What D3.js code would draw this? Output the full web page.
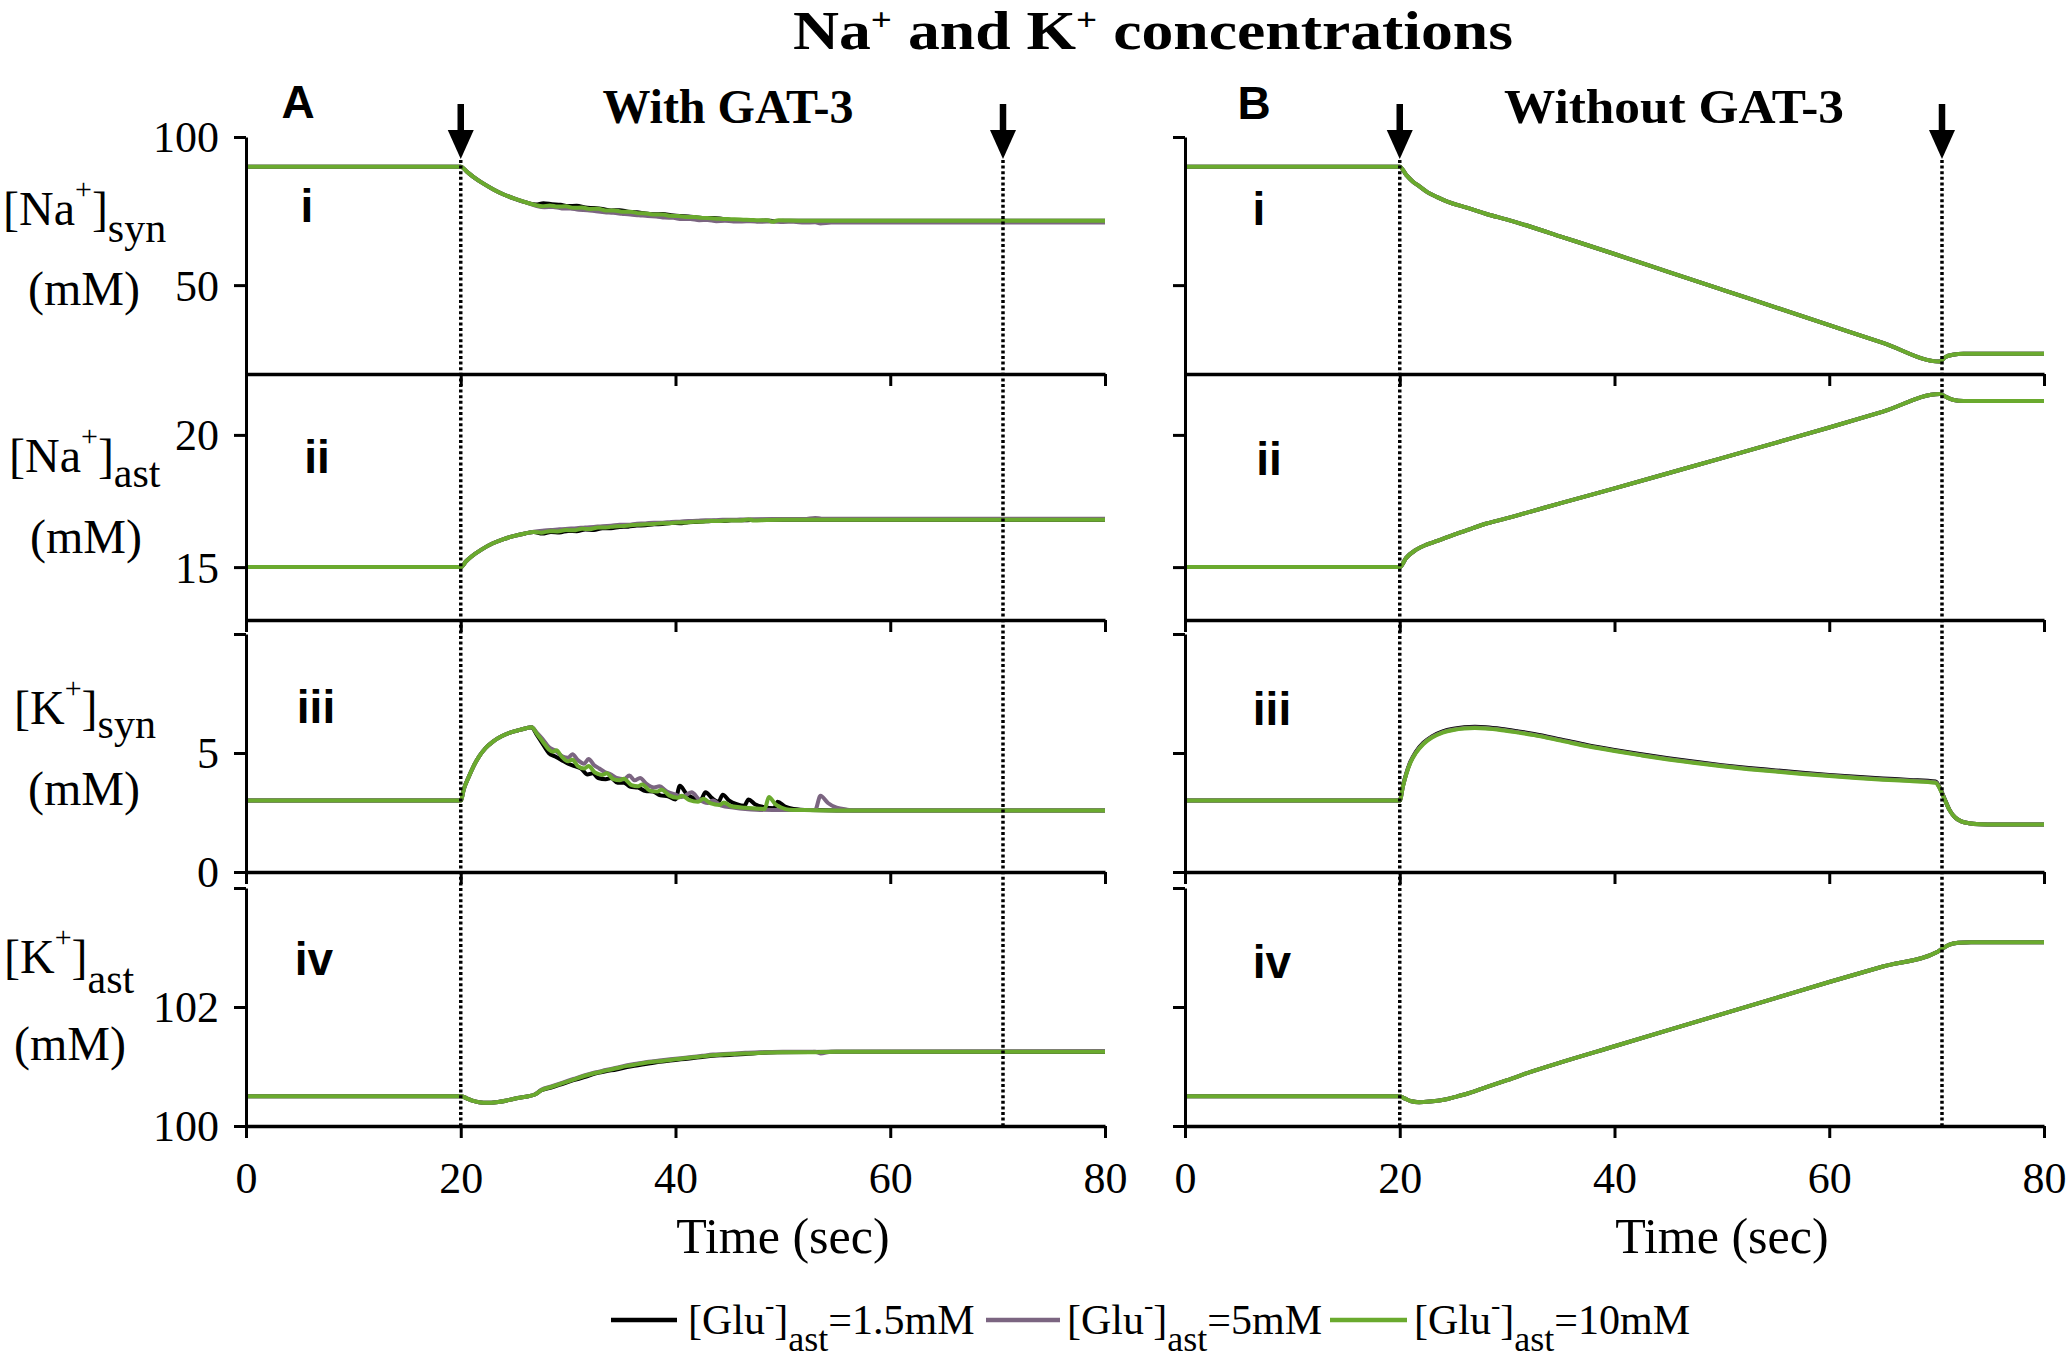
<!DOCTYPE html>
<html><head><meta charset="utf-8">
<script src="https://cdn.jsdelivr.net/npm/d3@7"></script>
<style>body{margin:0;background:#fff}</style>
</head><body>
<svg id="c" width="2070" height="1362" xmlns="http://www.w3.org/2000/svg"></svg>
<script>
// ---------------- DATA ----------------
const xTicks = [0, 20, 40, 60, 80];
const stimTimes = [20, 70.5];
const seriesNames = ["1.5mM", "5mM", "10mM"];

const yTicks_NaSyn = [50, 100];   const yLabels_NaSyn = [50, 100];
const yTicks_NaAst = [15, 20];    const yLabels_NaAst = [15, 20];
const yTicks_KSyn  = [0, 5, 10];  const yLabels_KSyn  = [0, 5];
const yTicks_KAst  = [100, 102, 104]; const yLabels_KAst = [100, 102];

// Panel A (with GAT-3)
const A_NaSyn_black = [[0,90],[20,90],[20.6,88.2],[21.3,86.2],[22,84.5],[23,82.4],[24,80.6],[25,79.2],[26,78],[27,77.2],[27.7,77.6],[28.5,77.3],[29.3,77.1],[30,76.7],[30.8,76.8],[31.6,76.2],[32.4,76.0],[33.2,75.7],[34,75.2],[34.8,75.3],[35.6,74.8],[36.4,74.6],[37.2,74.2],[38,73.9],[38.8,74.0],[39.6,73.6],[40.4,73.3],[41.2,73.2],[42,72.8],[42.8,72.6],[43.6,72.7],[44.4,72.3],[45.2,72.0],[46,71.8],[46.8,71.9],[47.6,71.6],[48.4,71.8],[49.2,71.6],[50,71.7],[52,71.7],[80,71.7]];
const A_NaSyn_purple = [[0,90],[20,90],[20.6,88.2],[21.3,86.2],[22,84.5],[23,82.4],[24,80.6],[25,79.2],[26,78],[27,76.8],[27.8,76.3],[28.6,76.4],[29.4,75.9],[30.2,75.9],[31,75.4],[31.8,75.3],[32.6,74.9],[33.4,74.6],[34.2,74.4],[35,74.1],[35.8,73.8],[36.6,73.6],[37.4,73.3],[38.2,73.2],[39,72.8],[39.8,72.7],[40.6,72.3],[41.4,72.3],[42.2,71.9],[43,72.0],[43.8,71.6],[44.6,71.7],[45.4,71.5],[46.2,71.5],[47,71.6],[48,71.4],[49,71.5],[50,71.3],[51,71.4],[52,71.1],[53,71.2],[53.5,70.8],[54.5,71.1],[56,71.1],[80,71.1]];
const A_NaSyn_green = [[0,90],[20,90],[20.6,88.2],[21.3,86.2],[22,84.5],[23,82.4],[24,80.6],[25,79.2],[26,78],[27,77],[27.6,76.6],[28.3,76.9],[29,76.5],[29.8,76.6],[30.5,76.1],[31.3,76.2],[32,75.7],[32.8,75.8],[33.5,75.2],[34.3,75.2],[35,74.8],[35.8,74.8],[36.5,74.3],[37.3,74.2],[38,73.8],[38.8,73.8],[39.5,73.4],[40.3,73.3],[41,73.0],[41.8,73.0],[42.5,72.7],[43.3,72.6],[44,72.4],[44.8,72.3],[45.5,72.2],[46.3,72.1],[47,72.0],[47.8,71.9],[48.6,71.9],[49,71.4],[49.6,71.9],[50.5,71.8],[52,71.7],[80,71.7]];

const A_NaAst_black = [[0,15],[20,15],[20.5,15.22],[21,15.4],[22,15.68],[23,15.9],[24,16.06],[25,16.18],[26,16.27],[26.8,16.33],[27.6,16.27],[28.4,16.33],[29.2,16.31],[30,16.37],[30.8,16.36],[31.6,16.42],[32.4,16.4],[33.2,16.47],[34,16.47],[34.8,16.52],[35.6,16.53],[36.4,16.57],[37.2,16.58],[38,16.62],[38.8,16.63],[39.6,16.67],[40.4,16.66],[41.2,16.7],[42,16.71],[42.8,16.73],[43.6,16.75],[44.4,16.74],[45.2,16.77],[46,16.77],[47,16.78],[48,16.79],[50,16.79],[80,16.79]];
const A_NaAst_purple = [[0,15],[20,15],[20.5,15.22],[21,15.4],[22,15.68],[23,15.9],[24,16.06],[25,16.18],[26,16.27],[26.8,16.34],[27.6,16.38],[28.4,16.4],[29.2,16.43],[30,16.45],[30.8,16.47],[31.6,16.5],[32.4,16.52],[33.2,16.55],[34,16.56],[34.8,16.6],[35.6,16.6],[36.4,16.64],[37.2,16.65],[38,16.68],[38.8,16.68],[39.6,16.71],[40.4,16.72],[41.2,16.74],[42,16.75],[42.8,16.77],[43.6,16.77],[44.4,16.79],[45.2,16.79],[46,16.8],[47,16.81],[48,16.81],[50,16.82],[52,16.82],[53,16.86],[53.6,16.83],[55,16.83],[80,16.83]];
const A_NaAst_green = [[0,15],[20,15],[20.5,15.22],[21,15.4],[22,15.68],[23,15.9],[24,16.06],[25,16.18],[26,16.27],[26.8,16.33],[27.5,16.3],[28.3,16.36],[29,16.35],[29.8,16.4],[30.5,16.39],[31.3,16.45],[32,16.44],[32.8,16.5],[33.5,16.5],[34.3,16.54],[35,16.55],[35.8,16.58],[36.5,16.6],[37.3,16.62],[38,16.63],[38.8,16.66],[39.5,16.66],[40.3,16.69],[41,16.69],[41.8,16.72],[42.5,16.72],[43.3,16.74],[44,16.74],[45,16.76],[46,16.76],[46.8,16.8],[47.3,16.76],[48.5,16.78],[50,16.79],[80,16.79]];

const A_KSyn_black = [[0,3],[20,3],[20.3,3.5],[20.7,3.95],[21.2,4.45],[21.7,4.85],[22.3,5.2],[23,5.48],[23.8,5.7],[24.6,5.86],[25.5,5.97],[26.6,6.08],[27.1,5.75],[27.6,5.4],[28.2,5.0],[28.8,4.85],[29.4,4.7],[30,4.55],[30.6,4.45],[31.2,4.35],[31.8,4.1],[32.3,4.15],[32.8,3.95],[33.5,3.9],[34,3.95],[34.6,3.75],[35.2,3.75],[35.8,3.58],[36.5,3.55],[37.2,3.4],[37.9,3.38],[38.6,3.22],[39.3,3.18],[40,3.05],[40.4,3.62],[41.0,3.3],[41.6,3.12],[42.3,3.0],[42.8,3.35],[43.4,3.1],[44,2.95],[44.4,3.25],[45,3.0],[45.7,2.85],[46.4,2.78],[46.8,3.05],[47.4,2.85],[48.3,2.72],[49.2,2.68],[49.5,2.95],[50.2,2.75],[51,2.65],[52.5,2.6],[55,2.58],[80,2.58]];
const A_KSyn_purple = [[0,3],[20,3],[20.3,3.5],[20.7,3.95],[21.2,4.45],[21.7,4.85],[22.3,5.2],[23,5.48],[23.8,5.7],[24.6,5.86],[25.5,5.97],[26.6,6.08],[27.1,5.85],[27.6,5.6],[28.2,5.25],[28.8,5.1],[29.5,4.85],[30,4.8],[30.4,4.95],[30.9,4.7],[31.5,4.55],[31.9,4.75],[32.4,4.5],[32.9,4.35],[33.4,4.2],[34,4.1],[34.5,3.95],[35.2,3.9],[35.7,4.05],[36.2,3.85],[36.7,3.95],[37.3,3.7],[38,3.55],[38.5,3.6],[39.2,3.38],[40,3.25],[40.6,3.15],[41.5,3.35],[42.2,3.05],[43,2.9],[43.5,3.0],[44.2,2.8],[45.5,2.7],[46.5,2.65],[47.5,2.62],[50,2.6],[53.0,2.6],[53.5,3.2],[54.2,2.9],[55,2.7],[56,2.62],[57,2.58],[80,2.58]];
const A_KSyn_green = [[0,3],[20,3],[20.3,3.5],[20.7,3.95],[21.2,4.45],[21.7,4.85],[22.3,5.2],[23,5.48],[23.8,5.7],[24.6,5.86],[25.5,5.97],[26.6,6.08],[27.1,5.8],[27.6,5.5],[28.2,5.15],[28.6,5.05],[28.9,5.12],[29.4,4.85],[30,4.65],[30.4,4.72],[30.9,4.45],[31.5,4.35],[31.9,4.45],[32.5,4.18],[33.2,4.08],[33.6,4.15],[34.2,3.9],[34.8,3.85],[35.2,3.92],[35.9,3.65],[36.5,3.6],[36.9,3.68],[37.6,3.42],[38.3,3.38],[38.7,3.46],[39.4,3.22],[40.2,3.12],[40.6,3.2],[41.3,3.02],[42.1,2.95],[42.6,3.08],[43.3,2.88],[44.1,2.82],[44.5,2.92],[45.2,2.76],[46.5,2.7],[47.8,2.66],[48.3,2.65],[48.7,3.15],[49.3,2.85],[49.9,2.7],[50.6,2.62],[52,2.6],[55,2.58],[80,2.58]];

const A_KAst_black = [[0,100.5],[20,100.5],[20.5,100.47],[21,100.43],[21.7,100.4],[22.5,100.39],[23.3,100.4],[24.3,100.43],[25.3,100.47],[26.3,100.5],[26.9,100.53],[27.5,100.6],[28.5,100.65],[29.5,100.71],[30.5,100.77],[31.5,100.82],[32.5,100.88],[33.5,100.92],[34.5,100.95],[35.5,100.99],[36.5,101.02],[37.5,101.05],[38.5,101.08],[39.5,101.1],[40.5,101.12],[41.5,101.14],[42.5,101.16],[43.5,101.18],[44.5,101.19],[45.5,101.2],[46.5,101.21],[48,101.23],[50,101.24],[55,101.25],[80,101.25]];
const A_KAst_purple = [[0,100.5],[20,100.5],[20.5,100.47],[21,100.43],[21.7,100.4],[22.5,100.39],[23.3,100.4],[24.3,100.43],[25.3,100.47],[26.3,100.5],[26.9,100.53],[27.5,100.61],[28.5,100.67],[29.5,100.73],[30.5,100.79],[31.5,100.85],[32.5,100.9],[33.5,100.94],[34.5,100.98],[35.5,101.02],[36.5,101.05],[37.5,101.08],[38.5,101.1],[39.5,101.12],[40.5,101.14],[41.5,101.16],[42.5,101.18],[43.5,101.2],[44.5,101.21],[45.5,101.22],[46.5,101.23],[48,101.24],[50,101.25],[53,101.25],[53.5,101.22],[54.5,101.25],[80,101.26]];
const A_KAst_green = [[0,100.5],[20,100.5],[20.5,100.47],[21,100.43],[21.7,100.4],[22.5,100.39],[23.3,100.4],[24.3,100.43],[25.3,100.47],[26.3,100.5],[26.9,100.53],[27.5,100.6],[28.5,100.66],[29.5,100.72],[30.5,100.78],[31.5,100.84],[32.5,100.89],[33.5,100.93],[34.5,100.97],[35.5,101.01],[36.5,101.04],[37.5,101.07],[38.5,101.09],[39.5,101.11],[40.5,101.13],[41.5,101.15],[42.5,101.17],[43.5,101.19],[44.5,101.2],[45.5,101.21],[46.5,101.22],[48,101.23],[50,101.24],[52,101.24],[55,101.25],[80,101.25]];

// Panel B (without GAT-3): the three series coincide except in iii
const B_NaSyn = [[0,90],[20,90],[20.6,87.2],[21.2,85],[21.8,83.4],[22.6,81.3],[23.5,79.7],[24.5,78.1],[25.5,76.9],[26.4,76],[28,74.1],[30,72.1],[32.2,69.7],[35,66.4],[40,60.5],[45,54.5],[50,48.5],[55,42.5],[60,36.5],[65,30.5],[70.3,24.2],[70.8,25.7],[71.5,26.5],[72.5,26.8],[80,26.8]];
const B_NaAst = [[0,15],[20,15],[20.6,15.35],[21.5,15.65],[22.5,15.85],[23.5,15.99],[25,16.22],[26.4,16.42],[28,16.64],[30,16.85],[32.2,17.1],[35,17.42],[40,17.98],[45,18.55],[50,19.12],[55,19.7],[60,20.28],[65,20.88],[70.3,21.55],[70.8,21.45],[71.5,21.33],[72.5,21.28],[80,21.28]];
const B_KSyn_black = [[0,3],[20,3],[20.3,3.62],[20.6,4.13],[21,4.64],[21.5,5.05],[22.2,5.43],[23,5.7],[24,5.91],[25,6.02],[26,6.08],[27,6.1],[28,6.08],[29.5,6.01],[31,5.91],[32.5,5.8],[35,5.57],[37.5,5.33],[40,5.13],[42.5,4.95],[45,4.78],[47.5,4.63],[50,4.49],[52.5,4.37],[55,4.27],[57.5,4.17],[60,4.08],[62.5,4.0],[65,3.93],[67.5,3.87],[69.9,3.8],[70.3,3.54],[70.7,3.12],[71.2,2.61],[71.7,2.3],[72.3,2.13],[73,2.05],[74,2.01],[75.5,2.0],[80,2.0]];
const B_KSyn_purple = [[0,3],[20,3],[20.3,3.61],[20.6,4.11],[21,4.62],[21.5,5.02],[22.2,5.4],[23,5.67],[24,5.88],[25,5.99],[26,6.05],[27,6.07],[28,6.05],[29.5,5.98],[31,5.88],[32.5,5.77],[35,5.54],[37.5,5.3],[40,5.1],[42.5,4.92],[45,4.75],[47.5,4.6],[50,4.46],[52.5,4.34],[55,4.24],[57.5,4.14],[60,4.05],[62.5,3.97],[65,3.9],[67.5,3.84],[69.9,3.77],[70.3,3.52],[70.7,3.11],[71.2,2.6],[71.7,2.3],[72.3,2.13],[73,2.05],[74,2.01],[75.5,2.0],[80,2.0]];
const B_KSyn_green = [[0,3],[20,3],[20.3,3.6],[20.6,4.1],[21,4.6],[21.5,5.0],[22.2,5.38],[23,5.65],[24,5.86],[25,5.97],[26,6.03],[27,6.05],[28,6.03],[29.5,5.96],[31,5.86],[32.5,5.75],[35,5.52],[37.5,5.28],[40,5.08],[42.5,4.9],[45,4.73],[47.5,4.58],[50,4.44],[52.5,4.32],[55,4.22],[57.5,4.12],[60,4.03],[62.5,3.95],[65,3.88],[67.5,3.82],[69.9,3.75],[70.3,3.5],[70.7,3.1],[71.2,2.6],[71.7,2.3],[72.3,2.13],[73,2.05],[74,2.01],[75.5,2.0],[80,2.0]];
const B_KAst = [[0,100.5],[20,100.5],[20.5,100.46],[21,100.42],[21.8,100.4],[22.8,100.41],[24.1,100.44],[25.2,100.49],[26.4,100.55],[28,100.65],[30,100.77],[32.2,100.91],[35,101.07],[40,101.34],[45,101.61],[50,101.88],[55,102.15],[60,102.42],[65,102.68],[70.1,102.93],[70.6,102.99],[71.2,103.05],[72,103.08],[73.2,103.09],[80,103.09]];

// ---------------- LAYOUT / STYLE ----------------
const SERIF = "'Liberation Serif','Times New Roman',serif";
const SANS = "'Liberation Sans',Arial,sans-serif";
const colors = ["#000000", "#7b6581", "#6aaa2e"];

const rows = [
  {dom:[20,100],  rng:[374,137], ticks:yTicks_NaSyn, labels:yLabels_NaSyn, roman:"i",
   A:[A_NaSyn_black,A_NaSyn_purple,A_NaSyn_green], B:[B_NaSyn,B_NaSyn,B_NaSyn],
   romanA:[307,222], romanB:[1259,225],
   ion:"Na", sub:"syn", lab:[3,225], subDy:17, mm:[28,305]},
  {dom:[13,22],   rng:[620,382], ticks:yTicks_NaAst, labels:yLabels_NaAst, roman:"ii",
   A:[A_NaAst_black,A_NaAst_purple,A_NaAst_green], B:[B_NaAst,B_NaAst,B_NaAst],
   romanA:[317,473], romanB:[1269,475],
   ion:"Na", sub:"ast", lab:[9,472], subDy:15, mm:[30,553]},
  {dom:[0,10],    rng:[872,634], ticks:yTicks_KSyn, labels:yLabels_KSyn, roman:"iii",
   A:[A_KSyn_black,A_KSyn_purple,A_KSyn_green], B:[B_KSyn_black,B_KSyn_purple,B_KSyn_green],
   romanA:[316,723], romanB:[1272,725],
   ion:"K", sub:"syn", lab:[14,724], subDy:14, mm:[28,805]},
  {dom:[100,104], rng:[1126,888], ticks:yTicks_KAst, labels:yLabels_KAst, roman:"iv",
   A:[A_KAst_black,A_KAst_purple,A_KAst_green], B:[B_KAst,B_KAst,B_KAst],
   romanA:[314,975], romanB:[1272,978],
   ion:"K", sub:"ast", lab:[4,973], subDy:20, mm:[14,1060]}
];

const xA = d3.scaleLinear().domain([0,80]).range([246,1105]);
const xB = d3.scaleLinear().domain([0,80]).range([1185,2044]);
const svg = d3.select("#c");

function styleAxis(g, w) {
  g.attr("font-family", null).attr("font-size", null);
  g.select(".domain").attr("stroke", "#000").attr("stroke-width", w);
  g.selectAll(".tick line").attr("stroke", "#000").attr("stroke-width", 3);
  g.selectAll(".tick text").attr("font-family", SERIF).attr("font-size", 44).attr("fill", "#000");
}

const plotG = svg.append("g");
rows.forEach((r, ri) => {
  const y = d3.scaleLinear().domain(r.dom).range(r.rng);
  [["A", xA], ["B", xB]].forEach(([pn, x]) => {
    const line = d3.line().x(d => x(d[0])).y(d => y(d[1])).curve(d3.curveMonotoneX);
    r[pn].forEach((data, si) => {
      plotG.append("path").datum(data).attr("d", line)
        .attr("fill", "none").attr("stroke", colors[si]).attr("stroke-width", 4)
        .attr("stroke-linejoin", "round");
    });
    const showY = pn === "A";
    const ya = d3.axisLeft(y).tickValues(r.ticks).tickSize(12).tickSizeOuter(0)
      .tickFormat(d => (showY && r.labels.includes(d)) ? String(d) : "");
    const gy = svg.append("g").attr("transform", `translate(${x(0)},0)`).call(ya);
    styleAxis(gy, 3);
    gy.selectAll(".tick text").attr("x", -27).attr("dy", "0.34em");
    const last = ri === rows.length - 1;
    const xa = d3.axisBottom(x).tickValues(xTicks).tickSize(12).tickSizeOuter(0)
      .tickFormat(d => last ? String(d) : "");
    const gx = svg.append("g").attr("transform", `translate(0,${r.rng[0]})`).call(xa);
    styleAxis(gx, 3.5);
    gx.selectAll(".tick text").attr("y", 67).attr("dy", null);
    const rp = pn === "A" ? r.romanA : r.romanB;
    svg.append("text").attr("x", rp[0]).attr("y", rp[1]).attr("text-anchor", "middle")
      .attr("font-family", SANS).attr("font-weight", "bold").attr("font-size", 46)
      .text(r.roman);
  });
  const t = svg.append("text").attr("x", r.lab[0]).attr("y", r.lab[1])
    .attr("font-family", SERIF).attr("font-size", 48).attr("fill", "#000");
  t.append("tspan").text("[" + r.ion);
  t.append("tspan").attr("font-size", 30).attr("dy", -26).text("+");
  t.append("tspan").attr("font-size", 48).attr("dy", 26).text("]");
  t.append("tspan").attr("font-size", 42).attr("dy", r.subDy).text(r.sub);
  svg.append("text").attr("x", r.mm[0]).attr("y", r.mm[1])
    .attr("font-family", SERIF).attr("font-size", 48).text("(mM)");
});

// stimulus dotted lines and arrows
[xA, xB].forEach(x => {
  stimTimes.forEach(ts => {
    const px = x(ts);
    svg.append("line").attr("x1", px).attr("x2", px).attr("y1", 160).attr("y2", 1126)
      .attr("stroke", "#000").attr("stroke-width", 3.5)
      .attr("stroke-dasharray", "3 2.6");
    svg.append("line").attr("x1", px).attr("x2", px).attr("y1", 104).attr("y2", 140)
      .attr("stroke", "#000").attr("stroke-width", 6.5);
    svg.append("path").attr("d", `M${px-13},130L${px+13},130L${px},159Z`).attr("fill", "#000");
  });
});

// x axis titles
[xA, xB].forEach(x => {
  svg.append("text").attr("x", x(50)).attr("y", 1253).attr("text-anchor", "middle")
    .attr("font-family", SERIF).attr("font-size", 50).text("Time (sec)");
});

// title
const title = svg.append("text").attr("x", 1153).attr("y", 49).attr("text-anchor", "middle")
  .attr("font-family", SERIF).attr("font-weight", "bold").attr("font-size", 55)
  .attr("textLength", 720).attr("lengthAdjust", "spacingAndGlyphs");
title.append("tspan").text("Na");
title.append("tspan").attr("font-size", 32).attr("dy", -19).text("+");
title.append("tspan").attr("font-size", 55).attr("dy", 19).text(" and K");
title.append("tspan").attr("font-size", 32).attr("dy", -19).text("+");
title.append("tspan").attr("font-size", 55).attr("dy", 19).text(" concentrations");

// subtitles and panel letters
svg.append("text").attr("x", 728).attr("y", 123).attr("text-anchor", "middle")
  .attr("font-family", SERIF).attr("font-weight", "bold").attr("font-size", 48).text("With GAT-3");
svg.append("text").attr("x", 1674).attr("y", 123).attr("text-anchor", "middle")
  .attr("font-family", SERIF).attr("font-weight", "bold").attr("font-size", 49)
  .attr("textLength", 340).attr("lengthAdjust", "spacingAndGlyphs").text("Without GAT-3");
svg.append("text").attr("x", 298).attr("y", 118).attr("text-anchor", "middle")
  .attr("font-family", SANS).attr("font-weight", "bold").attr("font-size", 46).text("A");
svg.append("text").attr("x", 1254).attr("y", 119).attr("text-anchor", "middle")
  .attr("font-family", SANS).attr("font-weight", "bold").attr("font-size", 46).text("B");

// legend
const legPos = [[611, 677, 688], [986, 1060, 1067], [1330, 1407, 1414]];
seriesNames.forEach((name, i) => {
  const p = legPos[i];
  svg.append("line").attr("x1", p[0]).attr("x2", p[1]).attr("y1", 1320).attr("y2", 1320)
    .attr("stroke", colors[i]).attr("stroke-width", 4.5);
  const t = svg.append("text").attr("x", p[2]).attr("y", 1334)
    .attr("font-family", SERIF).attr("font-size", 42);
  t.append("tspan").text("[Glu");
  t.append("tspan").attr("font-size", 28).attr("dy", -20).text("-");
  t.append("tspan").attr("font-size", 42).attr("dy", 20).text("]");
  t.append("tspan").attr("font-size", 36).attr("dy", 17).text("ast");
  t.append("tspan").attr("font-size", 42).attr("dy", -17).text("=" + name);
});
</script>
</body></html>
